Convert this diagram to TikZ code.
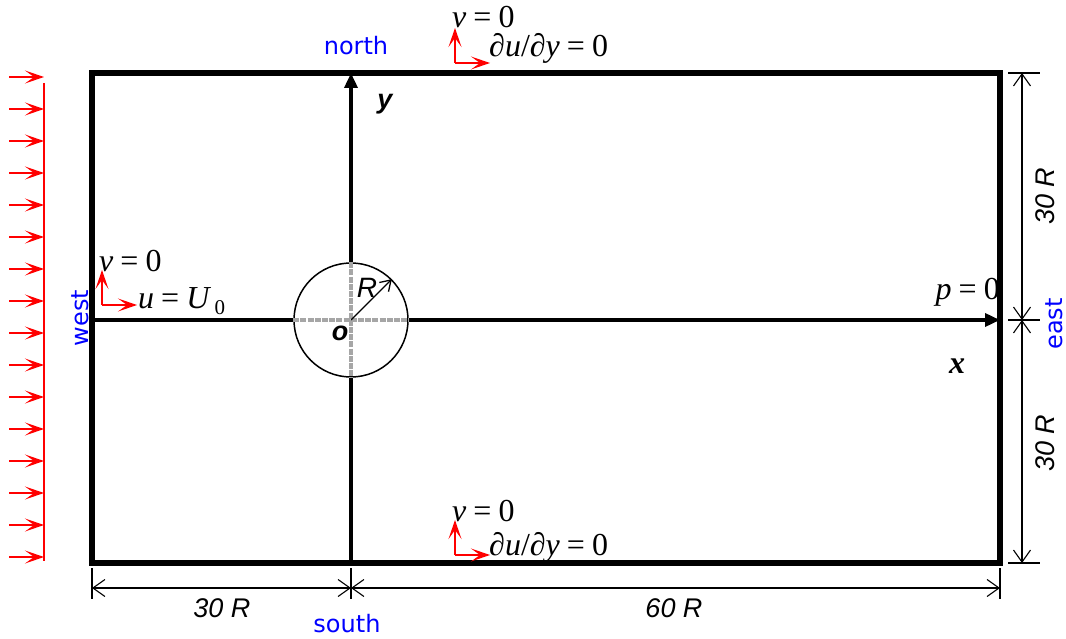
\documentclass[tikz,border=0pt]{standalone}
\usepackage{fontspec}
\setmainfont{Liberation Serif}
\newfontfamily\labfont{DejaVu Sans}
\newfontfamily\dimfont{Liberation Sans}
\usetikzlibrary{arrows.meta}
\tikzset{
  wall/.style={line width=5.5pt, line cap=rect},
  axis/.style={line width=3.5pt, -{Triangle[length=15pt,width=13pt]}},
  axisline/.style={line width=3.5pt},
  redarrow/.style={red, line width=1.6pt, -{Stealth[length=19pt,width=13pt,inset=9pt]}},
  dimline/.style={line width=1.1pt, {Straight Barb[length=12pt,width=17pt]}-{Straight Barb[length=12pt,width=17pt]}},
  tick/.style={line width=1.1pt},
  bclab/.style={font=\fontsize{32}{32}\selectfont, inner sep=0pt},
  sidelab/.style={font=\labfont\fontsize{24}{24}\selectfont, text=blue, inner sep=0pt},
  dimlab/.style={font=\dimfont\itshape\fontsize{27}{27}\selectfont, inner sep=0pt},
  axlab/.style={font=\dimfont\bfseries\itshape\fontsize{27}{27}\selectfont, inner sep=0pt},
}
\newcommand{\eqsp}{\hspace{0.22em}=\hspace{0.22em}}
\begin{document}
\begin{tikzpicture}[x=1pt,y=-1pt]
\useasboundingbox (0,0) rectangle (1066,639);
% corners and axes points
\coordinate (NW) at (92,73);
\coordinate (NE) at (1000,73);
\coordinate (SW) at (92,563);
\coordinate (SE) at (1000,563);
\coordinate (O) at (351,320);
\coordinate (W) at (92,320);
\coordinate (E) at (1000,320);
\coordinate (N) at (351,73);
\coordinate (S) at (351,563);
% domain
\draw[wall] (NW) rectangle (SE);
% cylinder
\node[circle, draw, line width=1.5pt, minimum size=114pt, inner sep=0pt] (cyl) at (O) {};
\draw[axisline] (S) -- (cyl.south);
\draw[axis] (cyl.north) -- (N);
\draw[axisline] (W) -- (cyl.west);
\draw[axis] (cyl.east) -- (E);
\draw[gray!70, line width=3.5pt, dash pattern=on 6pt off 1.2pt] (cyl.west) -- (cyl.east);
\draw[gray!70, line width=3.5pt, dash pattern=on 6pt off 1.2pt] (cyl.north) -- (cyl.south);
\draw[line width=1.3pt, -{Straight Barb[length=10pt,width=13pt]}] (O) -- (cyl.45);
\node[dimlab, font=\dimfont\itshape\fontsize{28}{28}\selectfont] (Rl) at (367,288) {R};
\node[axlab] (ol) at (340,333) {o};
\node[axlab] (yl) at (385,104) {y};
\node[font=\bfseries\itshape\fontsize{32}{32}\selectfont, inner sep=0pt] (xl) at (957,366) {x};
% inflow arrows
\draw[red, line width=1.5pt] (44,83) -- (44,561);
\foreach \i in {0,...,15}
  \draw[redarrow] (9,77+32*\i) -- (44,77+32*\i);
% side labels
\node[sidelab] (north) at (356,46) {north};
\node[sidelab] (south) at (347,624) {south};
\node[sidelab, rotate=90] (west) at (80,318) {west};
\node[sidelab, rotate=90] (east) at (1054,324) {east};
% top BC
\coordinate (tc) at (455,63);
\draw[redarrow] (tc) -- ++(0,-35);
\draw[redarrow] (tc) -- ++(35,0);
\node[bclab, anchor=west] (tv) at (452,17) {\textit{v}\eqsp 0};
\node[bclab, anchor=west] (tdu) at (489,48) {∂\textit{u}/∂\textit{y}\eqsp 0};
% bottom BC
\coordinate (bc) at (455,555);
\draw[redarrow] (bc) -- ++(0,-35);
\draw[redarrow] (bc) -- ++(35,0);
\node[bclab, anchor=west] (bv) at (452,511) {\textit{v}\eqsp 0};
\node[bclab, anchor=west] (bdu) at (489,547) {∂\textit{u}/∂\textit{y}\eqsp 0};
% left BC
\coordinate (lc) at (102,305);
\draw[redarrow] (lc) -- ++(0,-35);
\draw[redarrow] (lc) -- ++(35,0);
\node[bclab, anchor=west] (lv) at (99,261) {\textit{v}\eqsp 0};
\node[bclab, anchor=west] (lu) at (138,301) {\textit{u}\eqsp\textit{U}\raisebox{-0.4ex}{\fontsize{21}{21}\selectfont\,0}};
% right BC
\node[bclab, anchor=east] (rp) at (1000,292) {\textit{p}\eqsp 0};
% right dimensions
\coordinate (rt) at (1022,73);
\coordinate (rm) at (1022,320);
\coordinate (rb) at (1022,563);
\draw[tick] (1008,73) -- (1040,73);
\draw[tick] (1008,320) -- (1040,320);
\draw[tick] (1008,563) -- (1040,563);
\draw[dimline] (rt) -- (rm);
\draw[dimline] (rm) -- (rb);
\node[dimlab, rotate=90] (d1) at (1045,196) {30 R};
\node[dimlab, rotate=90] (d2) at (1045,443) {30 R};
% bottom dimensions
\coordinate (bl) at (92,588);
\coordinate (bmid) at (351,588);
\coordinate (br) at (1000,588);
\draw[tick] (92,568) -- (92,599);
\draw[tick] (351,568) -- (351,599);
\draw[tick] (1000,568) -- (1000,599);
\draw[dimline] (bl) -- (bmid);
\draw[dimline] (bmid) -- (br);
\node[dimlab] (d3) at (222,608) {30 R};
\node[dimlab] (d4) at (674,608) {60 R};
\end{tikzpicture}
\end{document}
